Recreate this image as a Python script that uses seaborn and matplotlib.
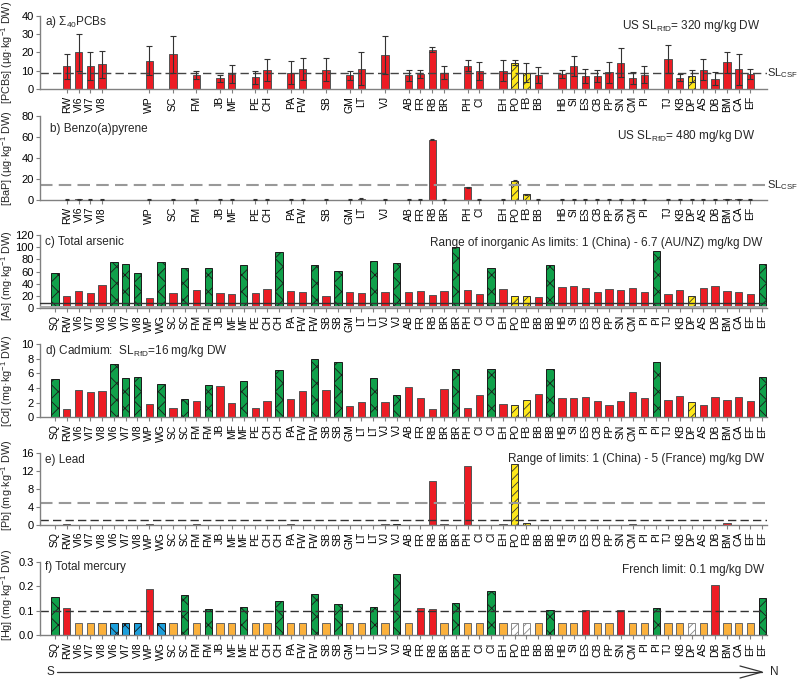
import numpy as np
import pandas as pd
import matplotlib
matplotlib.use("Agg")
import matplotlib.pyplot as plt
from matplotlib.lines import Line2D
import seaborn as sns

# ---------------- data ----------------
sites = ["SQ", "RW", "VI6", "VI7", "VI8", "VI6", "VI7", "VI8", "WP", "WG", "SC", "SC",
         "FM", "FM", "JB", "MF", "MF", "PE", "CH", "CH", "PA", "FW", "FW", "SB", "SB",
         "GM", "LT", "LT", "VJ", "VJ", "AB", "FR", "RB", "BR", "BR", "PH", "CI", "CI",
         "EH", "PO", "FB", "BB", "BB", "HB", "SI", "ES", "CB", "PP", "SN", "CM", "PI",
         "PI", "TJ", "KB", "DP", "AS", "DB", "BM", "CA", "EF", "EF"]
# r = red group, g = green (cross-hatched), y = yellow (hatched)
kinds = ["g", "r", "r", "r", "r", "g", "g", "g", "r", "g", "r", "g",
         "r", "g", "r", "r", "g", "r", "r", "g", "r", "r", "g", "r", "g",
         "r", "r", "g", "r", "g", "r", "r", "r", "r", "g", "r", "r", "g",
         "r", "y", "y", "r", "g", "r", "r", "r", "r", "r", "r", "r", "r",
         "g", "r", "r", "y", "r", "r", "r", "r", "r", "g"]

arsenic = [57.4, 19.7, 27.3, 24.6, 37.2, 75.4, 72.7, 57.9, 16.9, 75.4, 24.6, 65.6,
           30.0, 65.0, 25.1, 23.5, 70.0, 24.0, 31.7, 92.9, 28.4, 25.7, 70.5, 20.2, 60.7,
           25.7, 24.0, 76.5, 26.2, 73.2, 26.2, 27.9, 21.3, 28.4, 99.5, 29.5, 22.4, 65.0,
           30.6, 19.1, 19.1, 17.5, 70.0, 34.4, 36.6, 32.2, 26.8, 30.6, 30.0, 32.2, 25.7,
           94.5, 22.4, 30.0, 19.7, 33.3, 35.5, 27.3, 26.8, 23.5, 71.6]
cadmium = [5.2, 1.14, 3.8, 3.4, 3.65, 7.26, 5.34, 5.57, 1.78, 4.52, 1.32, 2.47,
           2.28, 4.47, 4.25, 2.0, 4.93, 1.23, 2.28, 6.44, 2.5, 3.65, 7.95, 3.8, 7.63,
           1.55, 2.05, 5.34, 2.05, 3.1, 4.15, 2.6, 1.19, 3.84, 6.58, 1.23, 3.1, 6.58,
           1.78, 1.69, 2.33, 3.15, 6.67, 2.6, 2.65, 2.83, 2.28, 1.74, 2.28, 3.42, 2.6,
           7.53, 2.42, 2.88, 2.05, 1.74, 2.74, 2.42, 2.74, 2.24, 5.48]
lead = [0.0, 0.3, 0.0, 0.0, 0.0, 0.0, 0.0, 0.0, 0.3, 0.0, 0.0, 0.0,
        0.15, 0.0, 0.0, 0.0, 0.0, 0.0, 0.0, 0.0, 0.15, 0.0, 0.0, 0.0, 0.0,
        0.0, 0.0, 0.0, 0.15, 0.15, 0.0, 0.0, 9.8, 0.3, 0.0, 13.2, 0.0, 0.0,
        0.25, 13.45, 0.35, 0.0, 0.0, 0.0, 0.0, 0.0, 0.0, 0.0, 0.0, 0.2, 0.0,
        0.0, 0.0, 0.0, 0.0, 0.0, 0.0, 0.45, 0.0, 0.0, 0.0]
mercury = [0.155, 0.112, 0.05, 0.05, 0.05, 0.05, 0.05, 0.05, 0.19, 0.05, 0.05, 0.165,
           0.05, 0.108, 0.05, 0.05, 0.117, 0.05, 0.05, 0.138, 0.05, 0.05, 0.168, 0.05, 0.126,
           0.05, 0.05, 0.114, 0.05, 0.25, 0.05, 0.113, 0.109, 0.05, 0.131, 0.05, 0.05, 0.181,
           0.05, 0.05, 0.05, 0.05, 0.103, 0.05, 0.05, 0.105, 0.05, 0.05, 0.105, 0.05, 0.05,
           0.112, 0.05, 0.05, 0.05, 0.05, 0.205, 0.05, 0.05, 0.05, 0.151]

# organics measured only on the non-green samples (indices into `sites`)
org_idx = [1, 2, 3, 4, 8, 10, 12, 14, 15, 17, 18, 20, 21, 23, 25, 26, 28, 30, 31, 32,
           33, 35, 36, 38, 39, 40, 41, 43, 44, 45, 46, 47, 48, 49, 50, 52, 53, 54, 55,
           56, 57, 58, 59]
pcb = [12.4, 20.0, 12.4, 13.6, 15.5, 19.1, 7.8, 6.0, 8.2, 6.5, 10.5, 9.1, 10.8, 10.7,
       7.6, 11.1, 18.7, 7.6, 8.4, 21.5, 9.1, 12.9, 10.0, 10.2, 14.4, 9.1, 7.8, 8.4,
       12.5, 7.1, 7.3, 9.3, 14.5, 6.2, 8.0, 16.5, 6.4, 7.3, 10.7, 5.8, 14.7, 10.9, 8.4]
pcb_err = [6.8, 10.0, 7.6, 7.3, 7.8, 10.0, 2.2, 1.8, 5.0, 3.6, 5.8, 6.4, 6.0, 6.1,
           2.4, 8.9, 10.4, 2.9, 2.0, 1.5, 3.3, 3.1, 4.9, 5.8, 1.4, 5.3, 4.2, 2.0,
           5.5, 3.8, 3.1, 5.8, 7.8, 3.1, 4.5, 7.6, 1.8, 3.1, 5.6, 3.6, 5.8, 8.4, 2.7]
bap = [0.4, 0.6, 0.4, 0.4, 0.4, 0.4, 0.4, 0.4, 0.4, 0.3, 0.3, 0.4, 0.4, 0.4,
       0.4, 1.0, 0.4, 0.3, 0.3, 57.0, 0.3, 12.0, 0.4, 0.3, 18.3, 5.4, 0.3, 0.3,
       0.3, 0.3, 0.4, 0.4, 0.4, 0.3, 0.3, 0.3, 0.3, 0.3, 0.3, 0.3, 0.8, 0.7, 0.3]
bap_err = [0.5] * 43

pcb_csf = 9.0
bap_csf = 14.0
as_limits = [1.5, 8.5]
pb_limits = [1.2, 4.8]
hg_limit = 0.1

# ---------------- style ----------------
sns.set_style("ticks")
plt.rcParams["font.family"] = ["Liberation Sans", "DejaVu Sans"]
plt.rcParams["mathtext.default"] = "regular"
plt.rcParams["hatch.linewidth"] = 0.6

RED = "#EC1C24"
GREEN = "#10A04A"
YELLOW = "#FFE81A"
ORANGE = "#FBB13C"
BLUE = "#1D9FDB"
WHITE = "#FFFFFF"
SPINE = "#808080"

fig = plt.figure(figsize=(8, 6.8), dpi=100)
L, W = 0.05, 0.909
rects = {
    "a": [L, 0.8687, W, 0.1082],
    "b": [L, 0.7059, W, 0.1240],
    "c": [L, 0.5470, W, 0.1074],
    "d": [L, 0.3863, W, 0.1074],
    "e": [L, 0.2280, W, 0.1059],
    "f": [L, 0.0657, W, 0.1082],
}
XLIM = (-1.27, 60.42)


def style_for(kind):
    if kind == "r":
        return RED, "", "#555555"
    if kind == "g":
        return GREEN, "xx", "#1a1a1a"
    if kind == "y":
        return YELLOW, "////", "#333333"
    if kind == "o":
        return ORANGE, "", "#666666"
    if kind == "b":
        return BLUE, "xx", "#1a1a1a"
    if kind == "w":
        return WHITE, "////", "#888888"
    return RED, "", "#555555"


def draw(ax, pos, vals, kd):
    df = pd.DataFrame({"pos": pos, "val": vals})
    sns.barplot(data=df, x="pos", y="val", native_scale=True, width=0.62,
                errorbar=None, color=RED, ax=ax)
    for patch, k in zip(ax.patches, kd):
        fc, h, ec = style_for(k)
        patch.set_facecolor(fc)
        patch.set_hatch(h)
        patch.set_edgecolor(ec)
        patch.set_linewidth(0.7)
    ax.set_xlim(*XLIM)
    ax.set_xlabel("")
    sns.despine(ax=ax)
    for sp in ["left", "bottom"]:
        ax.spines[sp].set_color(SPINE)
        ax.spines[sp].set_linewidth(1.0)
    ax.tick_params(axis="both", colors=SPINE, labelcolor="black", length=3, width=0.8)
    ax.tick_params(axis="y", labelsize=8, pad=1.5)
    ax.tick_params(axis="x", labelsize=7.5, pad=2)


def ylab(ax, text, y=0.5):
    ax.set_ylabel(text, fontsize=7.8)
    ax.yaxis.set_label_coords(-0.034, y)


all_pos = list(range(len(sites)))
org_pos = org_idx
org_labels = [sites[i] for i in org_idx]
org_kinds = [kinds[i] for i in org_idx]

# ---- a) PCBs
ax = fig.add_axes(rects["a"])
draw(ax, org_pos, pcb, org_kinds)
ax.errorbar(org_pos, pcb, yerr=pcb_err, fmt="none", ecolor="#333333",
            elinewidth=0.8, capsize=2.2, capthick=0.8, zorder=5)
ax.set_ylim(0, 40)
ax.set_yticks([0, 10, 20, 30, 40])
ax.set_xticks(org_pos)
ax.set_xticklabels(org_labels, rotation=90)
ax.axhline(pcb_csf, color="#444444", ls=(0, (6, 3)), lw=1.0, zorder=1)
ax.text(1.0, pcb_csf, "SL$_{CSF}$", transform=ax.get_yaxis_transform(),
        fontsize=8, va="center", ha="left")
ax.text(0.007, 0.92, "a) $\\Sigma_{40}$PCBs", transform=ax.transAxes, fontsize=8.5,
        va="center")
ax.text(0.99, 0.86, "US SL$_{RfD}$= 320 mg/kg DW", transform=ax.transAxes,
        fontsize=8.5, va="center", ha="right")
ylab(ax, "[PCBs] (µg·kg$^{-1}$ DW)", 0.5)

# ---- b) BaP
ax = fig.add_axes(rects["b"])
draw(ax, org_pos, bap, org_kinds)
ax.errorbar(org_pos, bap, yerr=bap_err, fmt="none", ecolor="#333333",
            elinewidth=0.8, capsize=1.5, capthick=0.8, zorder=5)
ax.set_ylim(0, 80)
ax.set_yticks([0, 20, 40, 60, 80])
ax.set_xticks(org_pos)
ax.set_xticklabels(org_labels, rotation=90)
ax.axhline(bap_csf, color="#999999", ls=(0, (6, 3)), lw=1.5, zorder=1)
ax.text(1.0, bap_csf, "SL$_{CSF}$", transform=ax.get_yaxis_transform(),
        fontsize=8, va="center", ha="left")
ax.text(0.014, 0.84, "b) Benzo(a)pyrene", transform=ax.transAxes, fontsize=8.5,
        va="center")
ax.text(0.984, 0.76, "US SL$_{RfD}$= 480 mg/kg DW", transform=ax.transAxes,
        fontsize=8.5, va="center", ha="right")
ylab(ax, "[BaP] (µg·kg$^{-1}$ DW)")

# ---- c) Arsenic
ax = fig.add_axes(rects["c"])
draw(ax, all_pos, arsenic, kinds)
ax.set_ylim(0, 120)
ax.set_yticks([0, 20, 40, 60, 80, 100, 120])
ax.set_xticks(all_pos)
ax.set_xticklabels(sites, rotation=90)
ax.axhline(as_limits[0], color="#aaaaaa", lw=2.2, zorder=3)
ax.axhline(as_limits[1], color="#333333", lw=1.0, zorder=3)
ax.text(0.007, 0.90, "c) Total arsenic", transform=ax.transAxes, fontsize=8.5,
        va="center")
ax.text(0.993, 0.89, "Range of inorganic As limits: 1 (China) - 6.7 (AU/NZ) mg/kg DW",
        transform=ax.transAxes, fontsize=8.5, va="center", ha="right")
ylab(ax, "[As] (mg·kg$^{-1}$ DW)", 0.45)

# ---- d) Cadmium
ax = fig.add_axes(rects["d"])
draw(ax, all_pos, cadmium, kinds)
ax.set_ylim(0, 10)
ax.set_yticks([0, 2, 4, 6, 8, 10])
ax.set_xticks(all_pos)
ax.set_xticklabels(sites, rotation=90)
ax.text(0.007, 0.91, "d) Cadmium:  SL$_{RfD}$=16 mg/kg DW", transform=ax.transAxes,
        fontsize=8.5, va="center")
ylab(ax, "[Cd] (mg·kg$^{-1}$ DW)")

# ---- e) Lead
ax = fig.add_axes(rects["e"])
draw(ax, all_pos, lead, kinds)
ax.set_ylim(0, 16)
ax.set_yticks([0, 4, 8, 12, 16])
ax.set_xticks(all_pos)
ax.set_xticklabels(sites, rotation=90)
ax.axhline(pb_limits[1], color="#999999", ls=(0, (6, 3)), lw=1.5, zorder=1)
ax.axhline(pb_limits[0], color="#333333", ls=(0, (6, 3)), lw=1.0, zorder=1)
ax.text(0.007, 0.90, "e) Lead", transform=ax.transAxes, fontsize=8.5, va="center")
ax.text(0.996, 0.92, "Range of limits: 1 (China) - 5 (France) mg/kg DW",
        transform=ax.transAxes, fontsize=8.5, va="center", ha="right")
ylab(ax, "[Pb] (mg·kg$^{-1}$ DW)", 0.55)

# ---- f) Mercury
hg_kinds = []
for k, v in zip(kinds, mercury):
    if k == "y":
        hg_kinds.append("w")
    elif v <= 0.05 and k == "r":
        hg_kinds.append("o")
    elif v <= 0.05 and k == "g":
        hg_kinds.append("b")
    else:
        hg_kinds.append(k)
ax = fig.add_axes(rects["f"])
draw(ax, all_pos, mercury, hg_kinds)
ax.set_ylim(0, 0.3)
ax.set_yticks([0.0, 0.1, 0.2, 0.3])
ax.set_yticklabels(["0.0", "0.1", "0.2", "0.3"])
ax.set_xticks(all_pos)
ax.set_xticklabels(sites, rotation=90)
ax.axhline(hg_limit, color="#333333", ls=(0, (6, 3)), lw=1.0, zorder=1)
ax.text(0.007, 0.93, "f) Total mercury", transform=ax.transAxes, fontsize=8.5,
        va="center")
ax.text(0.996, 0.89, "French limit: 0.1 mg/kg DW", transform=ax.transAxes,
        fontsize=8.5, va="center", ha="right")
ylab(ax, "[Hg] (mg·kg$^{-1}$ DW)", 0.55)

# ---- S -> N arrow
yA = 1 - 672 / 680
fig.text(50 / 800, yA, "S", fontsize=8.5, ha="center", va="center")
fig.add_artist(Line2D([57 / 800, 762 / 800], [yA, yA], color="#333333", lw=0.9))
fig.add_artist(Line2D([740 / 800, 762 / 800, 740 / 800],
                      [1 - 666 / 680, yA, 1 - 678 / 680], color="#333333", lw=0.9))
fig.text(770 / 800, yA, "N", fontsize=8.5, ha="left", va="center")

fig.savefig("out.png", dpi=100)
